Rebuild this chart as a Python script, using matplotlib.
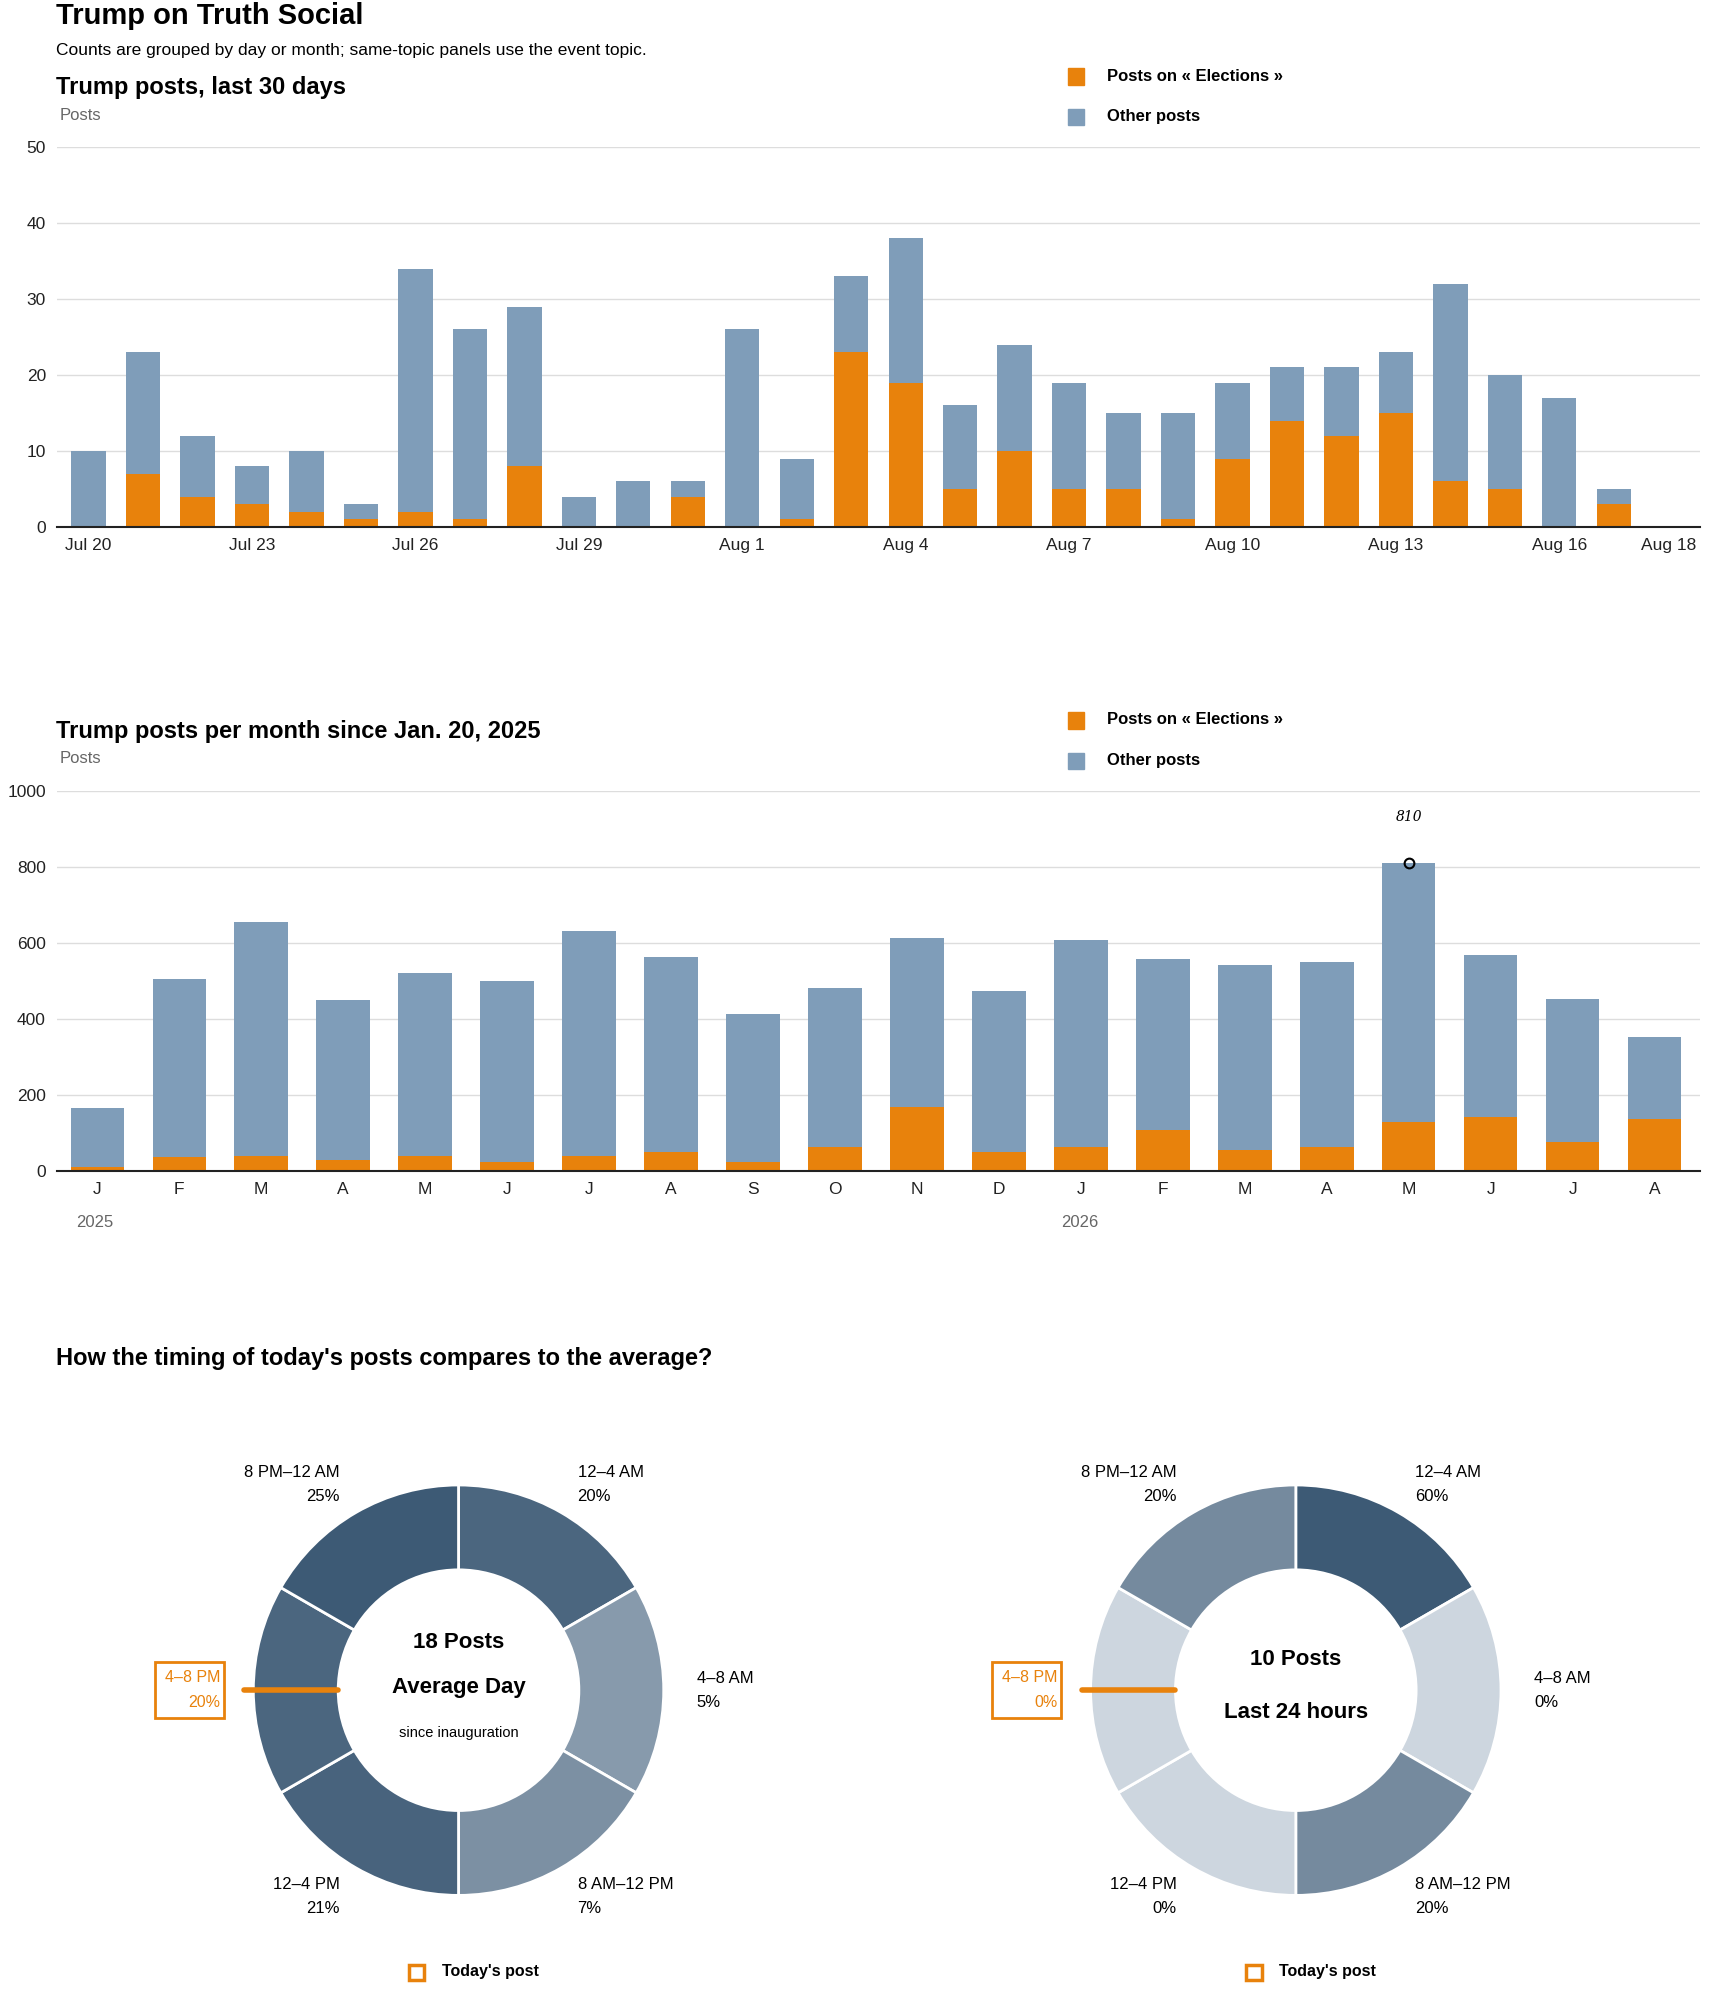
import numpy as np
import matplotlib.pyplot as plt

plt.rcParams['font.family'] = ['Liberation Sans', 'DejaVu Sans']

ORANGE = '#e8820c'
BLUE = '#7f9db9'

# daily posts, Jul 20 - Aug 18
day_labels = ['Jul 20', 'Jul 23', 'Jul 26', 'Jul 29', 'Aug 1', 'Aug 4', 'Aug 7',
              'Aug 10', 'Aug 13', 'Aug 16', 'Aug 18']
day_tick_idx = [0, 3, 6, 9, 12, 15, 18, 21, 24, 27, 29]
day_total = [10, 23, 12, 8, 10, 3, 34, 26, 29, 4, 6, 6, 26, 9, 33, 38, 16, 24, 19, 15,
             15, 19, 21, 21, 23, 32, 20, 17, 5, 0]
day_topic = [0, 7, 4, 3, 2, 1, 2, 1, 8, 0, 0, 4, 0, 1, 23, 19, 5, 10, 5, 5,
             1, 9, 14, 12, 15, 6, 5, 0, 3, 0]

# monthly posts, Jan 2025 - Aug 2026
month_labels = ['J', 'F', 'M', 'A', 'M', 'J', 'J', 'A', 'S', 'O', 'N', 'D',
                'J', 'F', 'M', 'A', 'M', 'J', 'J', 'A']
month_total = [165, 505, 655, 448, 520, 500, 630, 563, 413, 480, 612, 473,
               606, 557, 540, 550, 810, 567, 453, 353]
month_topic = [10, 35, 38, 28, 38, 22, 38, 48, 22, 63, 168, 50,
               63, 108, 55, 63, 128, 142, 75, 135]

# timing donuts (clockwise from 12 o'clock)
slots = ['12–4 AM', '4–8 AM', '8 AM–12 PM', '12–4 PM', '4–8 PM', '8 PM–12 AM']
avg_pct = [20, 5, 7, 21, 20, 25]
today_pct = [60, 0, 20, 0, 0, 20]

W, H = 1350, 1573
def fx(x): return x / W
def fy(y): return 1 - y / H

fig = plt.figure(figsize=(17.1, 19.93), dpi=100)

def text(x, y, s, **kw):
    fig.text(fx(x), fy(y), s, **kw)

def bar_panel(top, bottom, xl, xr, ymax, yticks):
    ax = fig.add_axes([fx(45), fy(bottom), fx(1342) - fx(45), fy(top) - fy(bottom)])
    ax.set_xlim(xl, xr)
    ax.set_ylim(0, ymax)
    ax.set_yticks(yticks)
    ax.grid(axis='y', color='#dddddd', lw=1)
    ax.set_axisbelow(True)
    for s in ['top', 'right', 'left']:
        ax.spines[s].set_visible(False)
    ax.spines['bottom'].set_color('#222222')
    ax.spines['bottom'].set_linewidth(1.5)
    ax.tick_params(length=0, labelsize=12.5, pad=8, colors='#222222')
    return ax

def legend(y):
    fig.patches.append(plt.Rectangle((fx(843), fy(y + 7)), fx(13), 13 / H,
                                     color=ORANGE, transform=fig.transFigure))
    fig.patches.append(plt.Rectangle((fx(843), fy(y + 39)), fx(13), 13 / H,
                                     color=BLUE, transform=fig.transFigure))
    text(874, y, 'Posts on « Elections »', fontsize=12, weight='bold', va='center')
    text(874, y + 32, 'Other posts', fontsize=12, weight='bold', va='center')

text(44, 13, 'Trump on Truth Social', fontsize=21, weight='bold', va='center')
text(44, 40, 'Counts are grouped by day or month; same-topic panels use the event topic.',
     fontsize=12.5, va='center')

# panel 1
text(44, 69, 'Trump posts, last 30 days', fontsize=17, weight='bold', va='center')
text(47, 91, 'Posts', fontsize=12, color='#666666', va='center')
legend(60)
ax1 = bar_panel(116, 416, -0.58, 29.58, 50, [0, 10, 20, 30, 40, 50])
x = np.arange(len(day_total))
other = np.array(day_total) - np.array(day_topic)
ax1.bar(x, day_topic, width=0.63, color=ORANGE)
ax1.bar(x, other, bottom=day_topic, width=0.63, color=BLUE)
ax1.set_xticks(day_tick_idx)
ax1.set_xticklabels(day_labels)

# panel 2
text(44, 577, 'Trump posts per month since Jan. 20, 2025', fontsize=17, weight='bold', va='center')
text(47, 599, 'Posts', fontsize=12, color='#666666', va='center')
legend(568)
ax2 = bar_panel(624, 924, -0.49, 19.55, 1000, [0, 200, 400, 600, 800, 1000])
m = np.arange(len(month_total))
other_m = np.array(month_total) - np.array(month_topic)
ax2.bar(m, month_topic, width=0.65, color=ORANGE)
ax2.bar(m, other_m, bottom=month_topic, width=0.65, color=BLUE)
ax2.set_xticks(m)
ax2.set_xticklabels(month_labels)
peak = int(np.argmax(month_total))
ax2.plot(peak, month_total[peak], 'o', mfc='none', mec='black', mew=1.5, ms=7)
ax2.annotate(str(month_total[peak]), (peak, month_total[peak]), xytext=(0, 30),
             textcoords='offset points', ha='center', fontsize=10, style='italic',
             family='DejaVu Serif')
text(60, 965, '2025', fontsize=12, color='#666666', va='center')
text(838, 965, '2026', fontsize=12, color='#666666', va='center')

# donuts
text(44, 1072, "How the timing of today's posts compares to the average?",
     fontsize=17, weight='bold', va='center')

def shade(p, vmax):
    light = np.array([0xcd, 0xd6, 0xdf]) / 255
    dark = np.array([0x3d, 0x5a, 0x75]) / 255
    t = (p / vmax) ** 0.45 if vmax else 0
    return tuple(light + (dark - light) * t)

def donut(cx, pct, line1, line2, sub, box_x):
    ax = fig.add_axes([fx(cx - 200), fy(1534), fx(400), 400 / H])
    ax.set_xlim(-200, 200)
    ax.set_ylim(-200, 200)
    ax.axis('off')
    vmax = max(pct)
    cols = [shade(p, vmax) for p in pct]
    ax.pie([1] * 6, radius=162, startangle=90, counterclock=False, colors=cols,
           wedgeprops=dict(width=67, edgecolor='white', linewidth=2))
    ax.set_xlim(-200, 200)
    ax.set_ylim(-200, 200)
    if sub:
        ax.text(0, 38, line1, ha='center', va='center', fontsize=16, weight='bold')
        ax.text(0, 2, line2, ha='center', va='center', fontsize=16, weight='bold')
        ax.text(0, -34, sub, ha='center', va='center', fontsize=10.5)
    else:
        ax.text(0, 24, line1, ha='center', va='center', fontsize=16, weight='bold')
        ax.text(0, -18, line2, ha='center', va='center', fontsize=16, weight='bold')
    # labels
    text(cx - 94, 1162, slots[5], fontsize=12, ha='right', va='center')
    text(cx - 94, 1181, f'{pct[5]}%', fontsize=12, ha='right', va='center')
    text(cx + 94, 1162, slots[0], fontsize=12, va='center')
    text(cx + 94, 1181, f'{pct[0]}%', fontsize=12, va='center')
    text(cx + 188, 1325, slots[1], fontsize=12, va='center')
    text(cx + 188, 1344, f'{pct[1]}%', fontsize=12, va='center')
    text(cx + 94, 1487, slots[2], fontsize=12, va='center')
    text(cx + 94, 1506, f'{pct[2]}%', fontsize=12, va='center')
    text(cx - 94, 1487, slots[3], fontsize=12, ha='right', va='center')
    text(cx - 94, 1506, f'{pct[3]}%', fontsize=12, ha='right', va='center')
    # highlighted slot
    fig.patches.append(plt.Rectangle((fx(box_x), fy(1356)), fx(55), 44 / H, fill=False,
                                     ec=ORANGE, lw=2, transform=fig.transFigure))
    text(box_x + 52, 1324, slots[4], fontsize=11.5, ha='right', va='center', color=ORANGE)
    text(box_x + 52, 1344, f'{pct[4]}%', fontsize=11.5, ha='right', va='center', color=ORANGE)
    ax.plot([box_x + 71 - cx, -95], [0, 0], color=ORANGE, lw=4, solid_capstyle='round',
            clip_on=False)
    # legend
    fig.patches.append(plt.Rectangle((fx(cx - 39), fy(1563)), fx(12), 12 / H, fill=False,
                                     ec=ORANGE, lw=2.5, transform=fig.transFigure))
    text(cx - 13, 1556, "Today's post", fontsize=11.5, weight='bold', va='center')

donut(362, avg_pct, '18 Posts', 'Average Day', 'since inauguration', 122)
donut(1023, today_pct, '10 Posts', 'Last 24 hours', None, 783)

fig.savefig('out.png', dpi=100)
